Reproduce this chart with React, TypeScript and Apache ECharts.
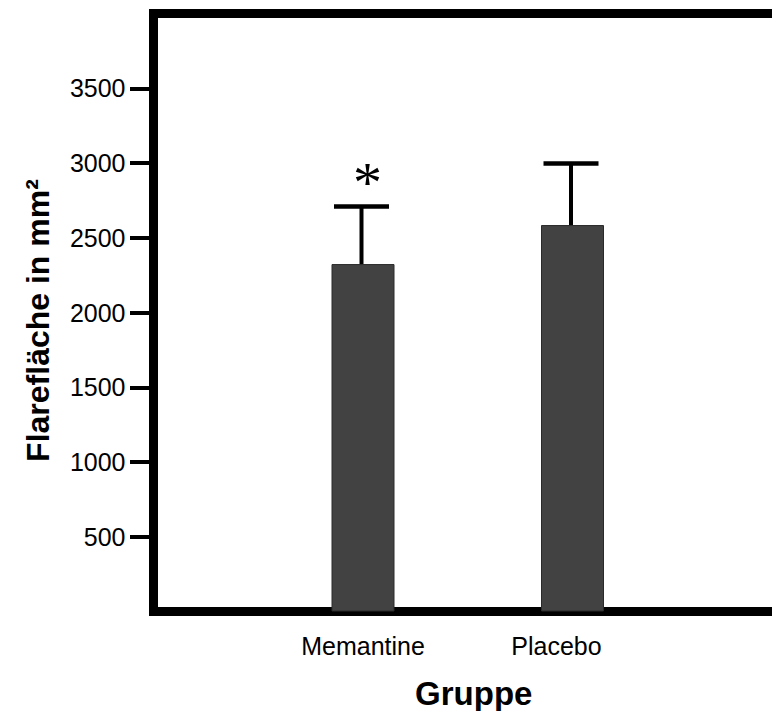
import React, { useEffect, useRef } from "react";
import * as echarts from "echarts";

const categories = ["Memantine", "Placebo"];
const meanValues = [2324, 2585];
const upperValues = [2709, 2997];
const significance = ["*", ""];
const yTickValues = [500, 1000, 1500, 2000, 2500, 3000, 3500];

const FONT = "'Liberation Sans', Arial, sans-serif";

export default function App() {
  const ref = useRef<HTMLDivElement>(null);
  useEffect(() => {
    if (!ref.current) return;
    const chart = echarts.init(ref.current, undefined, { renderer: "svg" });
    const barData = categories.map((c, i) => [i + 1, meanValues[i]]);
    const errData = categories.map((c, i) => [i + 1, meanValues[i], upperValues[i], i]);
    const labelStyle = {
      color: "#000",
      fontFamily: FONT,
      fontSize: 25,
    };
    chart.setOption({
      animation: false,
      backgroundColor: "#ffffff",
      grid: {
        left: 153.5,
        right: -10,
        top: 13.5,
        bottom: 99.5,
        containLabel: false,
        outerBoundsMode: "none",
        show: true,
        borderColor: "#000000",
        borderWidth: 9,
        backgroundColor: "transparent",
      },
      xAxis: {
        type: "value",
        min: 0,
        max: 3,
        interval: 1,
        axisLine: { show: false },
        axisTick: { show: false },
        splitLine: { show: false },
        axisLabel: {
          formatter: (v: number) => {
            const c = categories[v - 1];
            if (!c) return "";
            return v === 1 ? `{a|${c}}` : `{b|${c}}`;
          },
          margin: 22,
          ...labelStyle,
          rich: {
            a: { ...labelStyle },
            b: { ...labelStyle, padding: [0, 32, 0, 0] },
          },
        },
        name: "Gruppe",
        nameLocation: "middle",
        nameGap: 65,
        nameTextStyle: {
          color: "#000",
          fontFamily: FONT,
          fontWeight: "bold",
          fontSize: 33,
          padding: [0, 0, 0, 12],
        },
      },
      yAxis: {
        type: "value",
        min: 0,
        max: 4000,
        interval: 500,
        axisLine: { show: false },
        splitLine: { show: false },
        axisTick: {
          show: true,
          customValues: yTickValues,
          length: 23.5,
          lineStyle: { color: "#000", width: 4 },
        },
        axisLabel: {
          customValues: yTickValues,
          formatter: (v: number) => String(v),
          color: "#000",
          fontFamily: FONT,
          fontSize: 25,
          margin: 28,
        },
        name: "Flarefläche in mm²",
        nameLocation: "middle",
        nameGap: 100,
        nameRotate: 90,
        nameTextStyle: {
          color: "#000",
          fontFamily: FONT,
          fontWeight: "bold",
          fontSize: 32,
          padding: [0, 16, 0, 0],
        },
      },
      series: [
        {
          type: "bar",
          data: barData,
          barWidth: 63,
          itemStyle: { color: "#424242", borderColor: "#2a2a2a", borderWidth: 1 },
          z: 3,
        },
        {
          type: "custom",
          data: errData,
          z: 4,
          renderItem: (params: any, api: any) => {
            const x = api.value(0);
            const lo = api.value(1);
            const hi = api.value(2);
            const idx = api.value(3);
            const p0 = api.coord([x, lo]);
            const p1 = api.coord([x, hi]);
            const cx = p0[0] - 1.5;
            const children: any[] = [
              {
                type: "line",
                shape: { x1: cx, y1: p0[1], x2: cx, y2: p1[1] },
                style: { stroke: "#000", lineWidth: 4 },
              },
              {
                type: "line",
                shape: { x1: cx - 27.5, y1: p1[1], x2: cx + 27.5, y2: p1[1] },
                style: { stroke: "#000", lineWidth: 4.5 },
              },
            ];
            const sig = significance[idx];
            if (sig) {
              children.push({
                type: "text",
                x: cx + 6,
                y: p1[1] - 24,
                style: {
                  text: sig,
                  fill: "#000",
                  fontFamily: "'Liberation Serif', 'Times New Roman', serif",
                  fontSize: 58,
                  align: "center",
                  verticalAlign: "middle",
                },
              });
            }
            return { type: "group", children };
          },
        },
      ],
    });
    return () => chart.dispose();
  }, []);
  return (
    <div
      ref={ref}
      style={{ position: "absolute", left: 0, top: 0, width: 772, height: 711 }}
    />
  );
}
